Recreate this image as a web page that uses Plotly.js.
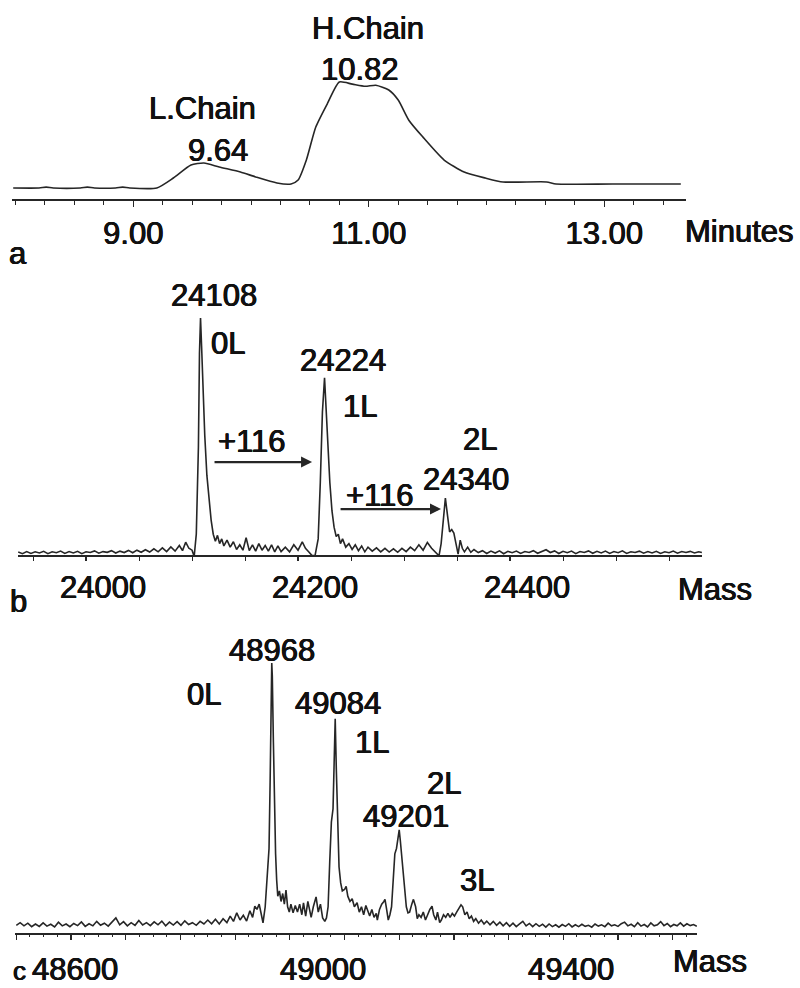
<!DOCTYPE html>
<html>
<head>
<meta charset="utf-8">
<script src="https://cdn.plot.ly/plotly-3.0.1.min.js"></script>
<style>html,body{margin:0;padding:0;background:#fff;}#chart{width:800px;height:988px;}</style>
</head>
<body>
<div id="chart"></div>
<script>
// ---------- Panel a: chromatogram (minutes vs intensity) ----------
const timeA = [7.98,8.20,8.26,8.32,8.55,8.61,8.67,8.85,8.91,8.97,9.20,9.34,9.49,9.60,9.73,9.91,10.04,10.22,10.34,10.40,10.47,10.55,10.65,10.75,10.86,10.97,11.06,11.17,11.25,11.34,11.46,11.64,11.81,11.99,12.14,12.51,12.59,13.07,13.65];
const intA  = [0,0,0.8,0,0,0.8,0,0,0.8,0,0,9.4,21.7,23.6,19.8,15.1,10.4,4.7,3.8,7.5,26.4,57.5,80,100,98,96,97,92.5,83,64,48,26.4,15,9.4,5.7,5.7,3.8,3.8,3.8];
const ticksA = [9, 11, 13];
const tickTextA = ["9.00", "11.00", "13.00"];

// ---------- Panel b: heavy chain mass spectrum ----------
const massB = [23936,23940,23944,23948,23952,23956,23960,23964,23968,23972,23976,23980,23984,23988,23992,23996,24000,24004,24008,24012,24016,24020,24024,24028,24032,24036,24040,24044,24048,24052,24056,24060,24064,24068,24072,24076,24080,24084,24088,24091,24094,24097,24100,24102,
24104,24106,24107,24108,24109,24110,24112,24114,24116,24118,24120,24122,24124,24126,24128,24130,24133,24136,24139,24142,24145,24148,24151,24154,24157,24160,24163,24166,24169,24172,24175,24178,24181,24184,24188,24192,24196,24200,24204,24207,24210,24213,24216,
24219,24221,24223,24225,24226,24228,24230,24232,24234,24236,24238,24240,24242,24245,24248,24251,24254,24257,24260,24263,24266,24270,24274,24278,24282,24286,24290,24294,24298,24302,24306,24310,24314,24318,24322,24326,24330,24333,
24335,24337,24339,24341,24343,24345,24347,24349,24351,24353,24355,24357,24360,24363,24366,
24370,24374,24378,24382,24386,24390,24394,24398,24402,24406,24410,24414,24418,24422,24426,24430,24434,24438,24442,24446,24450,24454,24458,24462,24466,24470,24474,24478,24482,24486,24490,24494,24498,24502,24506,24510,24514,24518,24522,24526,24530,24534,24538,24542,24546,24550,24554,24558,24562,24566,24570,24574,24578,24581];
const intB = [0.4,-0.3,0.6,-0.2,0.5,0.0,0.7,-0.3,0.5,0.1,0.8,-0.2,0.6,0.0,0.7,-0.3,0.5,0.2,0.9,-0.1,0.6,0.3,1.0,0.0,0.8,0.2,1.1,0.1,1.2,0.3,1.4,0.4,1.8,0.5,2.2,0.6,2.6,0.8,3.2,1.0,4.6,2.0,1.2,-1.5,
8,45,85,100,88,72,50,33,22,14,8,5,7.5,4,6,3,5.5,2.5,4.8,1.5,3.5,1.2,6.5,1.0,3.5,0.8,4,1.2,3.2,0.8,3.5,0.5,3,0.6,2.5,0.5,3.5,1.2,4.7,2,0.5,-1.0,-1.2,
6,30,60,74.5,66,45,30,18,11,7,8,4,6,2.5,4,1.5,3.5,1.0,3,0.5,2.5,0.8,2.2,0.5,2,0.4,1.8,0.3,2,0.6,2.5,1.0,3.5,1.2,4.5,2,0.2,-1.2,
4,14,23.4,16,9,10,8.5,4,-0.5,5.5,2,0.5,2.5,0.3,1.5,
0.2,1.0,-0.2,0.8,0.0,0.9,-0.3,0.7,0.1,0.8,-0.2,0.6,0.2,1.0,-0.1,0.7,1.4,0.2,0.9,-0.2,0.7,0.1,0.8,-0.3,0.6,0.2,0.9,-0.1,0.7,0.0,0.8,-0.2,0.6,0.1,0.9,-0.2,0.5,0.2,0.8,-0.1,0.6,0.0,0.7,-0.2,0.5,0.1,0.8,-0.1,0.6,0.2,0.7,0.0,0.5,0.2];
const ticksB = [24000, 24200, 24400];
const tickTextB = ["24000", "24200", "24400"];

// ---------- Panel c: mass spectrum ----------
const massC = [48500,48507,48514,48521,48528,48535,48542,48549,48556,48563,48570,48577,48584,48591,48598,48605,48612,48619,48626,48633,48640,48647,48654,48661,48668,48675,48682,48689,48696,48703,48710,48717,48724,48731,48738,48745,48752,48759,48766,48773,48780,48787,48794,48801,48808,48815,48822,48829,48836,48843,48850,48857,48864,48871,48878,48885,48891,48897,48903,48909,48915,48921,48927,48932,48936,48940,48944,48948,48951,
48955,48958,48960,48962,48964,48966,48967,48968,48970,48972,48974,48976,48978,48981,48984,48987,48990,48993,48996,48999,49002,49006,49010,49014,49018,49022,49025,49029,49033,49036,49039,49043,49048,49052,49056,49060,49064,49067,
49070,49073,49076,49079,49081,49083,49085,49087,49090,49093,49096,49100,49103,49106,49110,49114,49118,49123,49127,49131,49135,49139,49142,49146,49150,49154,49158,49160,49164,49168,49172,49174,49177,49180,49183,
49186,49189,49192,49195,49198,49200,49202,49204,49207,49210,49213,49216,49219,49223,49226,49230,49233,49236,49240,49244,49248,49252,49256,49260,49263,49267,49270,49274,49277,49281,49285,49289,49293,49297,49301,49305,49309,49313,49316,49320,49324,49328,49332,49336,49340,49345,
49350,49355,49360,49366,49372,49378,49384,49390,49396,49402,49408,49414,49420,49426,49432,49438,49444,49450,49456,49462,49468,49474,49480,49486,49492,49498,49504,49510,49516,49522,49528,49534,49540,49546,49552,49558,49564,49570,49576,49582,49588,49594,49600,49606,49612,49618,49624,49630,49636,49642,49648,49654,49660,49666,49672,49678,49684,49690,49696,49702,49708,49714,49720,49726,49732,49738,49744];
const intC = [1.0,2.0,0.8,1.8,0.5,1.5,0.6,1.9,0.7,1.4,0.4,2.2,0.8,1.5,0.5,1.7,0.9,2.3,0.6,1.6,0.8,2.5,1.0,1.8,0.7,2.1,3.8,1.2,2.4,0.8,2.0,1.0,2.8,1.1,2.0,0.9,2.3,1.2,2.6,0.8,2.2,1.1,2.4,1.0,2.7,1.3,2.0,1.0,2.5,1.5,3.0,1.6,3.3,1.5,3.5,2.0,4.5,2.5,5.7,3.0,4.8,2.6,6.5,4.0,8.2,7.0,9.0,5.0,1.9,
8,18,27,30,55,85,100,95,70,45,28,18,12,14,10,13,9,14.3,8,6,9,5.7,8.5,6,9,5,9.5,4.5,10,7,4,8,11.7,6,9,3.8,2.5,3.8,
8,25,40,45,65,79,60,40,23,17,14,14.5,15.7,12,10,11,8,9.5,6,8,5,8.5,6.5,4.5,7,4,5.5,3,7,9,10,10.8,7,3,5,
8,18,28,30,34,37,33,28,23,15,8,5.7,6,9,10.8,8,3.5,5,4,6,3,5,7,8.2,5,3,6,2,3,5,4,5.5,4,5.5,4.5,6,7.5,8.7,8,5,6,3.5,4.5,2.5,3.5,1.8,
3.0,1.5,2.6,1.2,2.5,1.0,2.2,0.8,2.0,0.6,1.8,0.5,1.5,2.5,0.8,1.7,0.5,1.6,0.6,1.4,0.3,1.5,0.5,1.2,0.3,1.3,0.6,1.6,0.4,1.2,0.5,1.4,0.6,1.0,0.3,1.5,0.7,1.2,0.5,1.8,0.8,1.2,0.6,1.6,2.2,0.8,1.4,0.5,2.0,0.7,1.3,0.4,1.9,0.8,1.2,2.4,0.9,1.7,0.5,1.3,0.8,1.9,0.7,1.6,0.9,1.3,0.6];
const ticksC = [48600, 49000, 49400];
const tickTextC = ["48600", "49000", "49400"];

// ---------- helpers (pixel -> paper fraction) ----------
const W = 800, H = 988;
const P = px => px / W;
const Q = py => 1 - py / H;

const LINE = {color: '#262626', width: 1.6};
const FONT = {family: 'Liberation Sans, Arial, sans-serif', size: 31, color: '#111111',
  shadow: '0.45px 0 0 #111111, -0.45px 0 0 #111111, 0 0.3px 0 #111111'};
const FONT_C = Object.assign({}, FONT, {size: 26});

const traces = [
  {x: timeA, y: intA, xaxis: 'x', yaxis: 'y', type: 'scatter', mode: 'lines', line: Object.assign({shape: 'spline', smoothing: 0.6}, LINE), hoverinfo: 'skip'},
  {x: massB, y: intB, xaxis: 'x2', yaxis: 'y2', type: 'scatter', mode: 'lines', line: LINE, hoverinfo: 'skip'},
  {x: massC, y: intC, xaxis: 'x3', yaxis: 'y3', type: 'scatter', mode: 'lines', line: LINE, hoverinfo: 'skip'},
  // empty helper trace so the label axis of panel c is drawn (no visible marks)
  {x: ticksC, y: [null, null, null], xaxis: 'x4', yaxis: 'y3', type: 'scatter', mode: 'markers', marker: {opacity: 0}, hoverinfo: 'skip'}
];

const axBase = {
  showgrid: false, zeroline: false, showline: true, linecolor: '#262626', linewidth: 1.6,
  ticks: 'outside', tickcolor: '#262626', tickwidth: 1.2, ticklen: 6,
  tickfont: FONT, fixedrange: true
};
const yBase = {visible: false, fixedrange: true};

const layout = {
  width: W, height: H,
  margin: {l: 0, r: 0, t: 0, b: 0},
  paper_bgcolor: '#fff', plot_bgcolor: 'rgba(0,0,0,0)',
  showlegend: false,
  font: FONT,
  xaxis: Object.assign({}, axBase, {
    domain: [P(12), P(686)], anchor: 'y', range: [7.97, 13.694],
    tickvals: ticksA, ticktext: tickTextA,
    minor: {dtick: 0.25, tick0: 9, ticks: 'outside', ticklen: 4, tickcolor: '#262626', tickwidth: 1}
  }),
  yaxis: Object.assign({}, yBase, {domain: [Q(199), Q(60)], anchor: 'x', range: [-10.4, 120.8]}),
  xaxis2: Object.assign({}, axBase, {
    domain: [P(18), P(702)], anchor: 'y2', range: [23935.8, 24581.1],
    tickvals: ticksB, ticktext: tickTextB, ticklabelshift: 17, ticklen: 4,
    minor: {dtick: 50, tick0: 24000, ticks: 'outside', ticklen: 4, tickcolor: '#262626', tickwidth: 1}
  }),
  yaxis2: Object.assign({}, yBase, {domain: [Q(555), Q(290)], anchor: 'x2', range: [-0.85, 111.9]}),
  xaxis3: Object.assign({}, axBase, {
    domain: [P(15), P(697)], anchor: 'y3', range: [48497.6, 49744.4],
    dtick: 100, tick0: 48600, showticklabels: false, ticklen: 5,
    minor: {dtick: 25, ticks: 'outside', ticklen: 2, tickcolor: '#262626', tickwidth: 1}
  }),
  xaxis4: {
    domain: [P(15), P(697)], anchor: 'y3', overlaying: 'x3', side: 'bottom',
    range: [48503, 49603], tickvals: ticksC, ticktext: tickTextC, ticks: 'outside', ticklen: 9, tickcolor: 'rgba(0,0,0,0)',
    showline: false, showgrid: false, zeroline: false,
    tickfont: FONT, fixedrange: true
  },
  yaxis3: Object.assign({}, yBase, {domain: [Q(933), Q(640)], anchor: 'x3', range: [-1.9, 108.7]}),
  annotations: []
};

function txt(text, px, py, extra) {
  return Object.assign({text: text, xref: 'paper', yref: 'paper', x: P(px), y: Q(py),
    xanchor: 'center', yanchor: 'middle', showarrow: false, font: FONT}, extra || {});
}
function arrow(xa, xFrom, xTo, yVal) {
  return {xref: xa, yref: 'y2', axref: xa, ayref: 'y2', x: xTo, y: yVal, ax: xFrom, ay: yVal,
    text: '', showarrow: true, arrowhead: 2, arrowsize: 1, arrowwidth: 2.2, arrowcolor: '#262626'};
}

layout.annotations.push(
  // panel a
  txt('H.Chain', 368, 29), txt('10.82', 360, 70), txt('L.Chain', 202, 108), txt('9.64', 218, 151),
  txt('Minutes', 739, 231), txt('a', 18, 254),
  // panel b
  txt('24108', 214, 296), txt('0L', 228, 344), txt('24224', 343, 360), txt('1L', 360, 406),
  txt('+116', 252, 441), txt('+116', 380, 496), txt('2L', 480, 439), txt('24340', 466, 480),
  txt('Mass', 715, 589), txt('b', 18, 601),
  arrow('x2', 24119.8, 24213.2, 38.7),
  arrow('x2', 24238.7, 24334.9, 18.7),
  // panel c
  txt('48968', 272, 650), txt('0L', 204, 694), txt('49084', 338, 703), txt('1L', 372, 742),
  txt('2L', 444, 783), txt('49201', 406, 816), txt('3L', 477, 880),
  txt('Mass', 710, 961), txt('c', 19, 987, {yanchor: 'bottom', font: FONT_C, borderpad: 0})
);

Plotly.newPlot('chart', traces, layout, {staticPlot: true, displayModeBar: false});
</script>
</body>
</html>
